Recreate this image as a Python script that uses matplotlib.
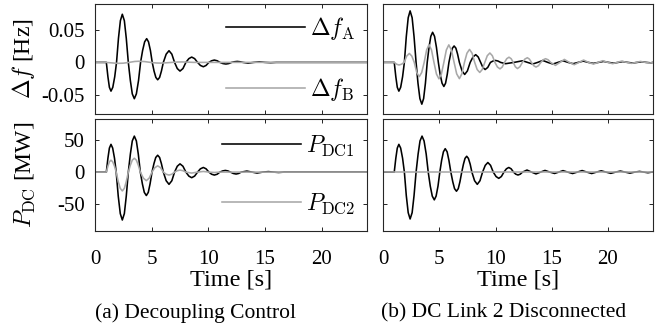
import matplotlib
matplotlib.use('Agg')
import matplotlib.pyplot as plt

# ---------------- data ----------------
# (a) Decoupling control, frequency deviation of area A  [Hz]
t_a_fA = [0, 1.0, 1.14, 1.27, 1.41, 1.57, 1.74, 1.9,
          2.07, 2.24, 2.41, 2.59, 2.76, 2.94,
          3.12, 3.29, 3.47, 3.65, 3.84, 4.02,
          4.2, 4.38, 4.56, 4.72, 4.89, 5.05,
          5.21, 5.37, 5.53, 5.7, 5.86, 6.03,
          6.28, 6.53, 6.78, 7.02,
          7.26, 7.5, 7.76, 8.02,
          8.28, 8.53, 8.79, 9.05,
          9.3, 9.56, 9.8, 10.05,
          10.29, 10.53, 10.78, 11.02,
          11.29, 11.55, 11.8, 12.05,
          12.3, 12.55, 12.8, 13.05,
          13.5, 14.0, 14.5, 15.0, 15.5, 16.0, 24.0]
v_a_fA = [0, 0, -0.0222, -0.0384, -0.0443, -0.0384, -0.0222, 0,
          0.0371, 0.0643, 0.0742, 0.0643, 0.0371, 0,
          -0.028, -0.0485, -0.056, -0.0485, -0.028, 0,
          0.0183, 0.0317, 0.0366, 0.0317, 0.0183, 0,
          -0.0134, -0.0232, -0.0268, -0.0232, -0.0134, 0,
          0.0127, 0.018, 0.0127, 0,
          -0.0095, -0.0134, -0.0095, 0,
          0.0058, 0.0082, 0.0058, 0,
          -0.0047, -0.0067, -0.0047, 0,
          0.0025, 0.0036, 0.0025, 0,
          -0.0018, -0.0025, -0.0018, 0,
          0.001, 0.0015, 0.001, 0,
          -0.0012, 0, 0.0008, 0, -0.0005, 0, 0]

# (a) frequency deviation of area B [Hz]
t_a_fB = [0, 1.0, 1.5, 2.0, 2.5, 3.0, 3.5, 3.9, 4.4, 4.9, 5.4, 5.8, 6.3,
          6.8, 7.3, 7.7, 8.2, 8.7, 24.0]
v_a_fB = [0, 0, -0.0008, -0.0015, -0.0012, 0, 0.0014, 0.0018, 0.0012, 0,
          -0.0009, -0.0011, -0.0006, 0, 0.0006, 0.0007, 0.0004, 0, 0]

# (a) DC link 1 power [MW]
t_a_p1 = [0, 1.0, 1.14, 1.27, 1.41, 1.56, 1.72, 1.87,
          2.05, 2.23, 2.41, 2.59, 2.76, 2.94,
          3.12, 3.29, 3.47, 3.65, 3.82, 4.0,
          4.18, 4.35, 4.53, 4.7, 4.86, 5.03,
          5.2, 5.36, 5.53, 5.7, 5.86, 6.03,
          6.28, 6.53, 6.78, 7.02,
          7.26, 7.5, 7.76, 8.02,
          8.28, 8.53, 8.79, 9.05,
          9.3, 9.56, 9.8, 10.05,
          10.29, 10.53, 10.78, 11.02,
          11.26, 11.5, 11.73, 11.95,
          12.2, 12.45, 12.68, 12.9,
          13.4, 13.85, 14.3, 14.8, 15.3, 15.75, 16.2, 16.7, 24.0]
v_a_p1 = [0, 0, 21.6, 37.3, 43.1, 37.3, 21.6, 0,
          -37.2, -64.4, -74.4, -64.4, -37.2, 0,
          27.95, 48.4, 55.9, 48.4, 27.95, 0,
          -18.2, -31.5, -36.4, -31.5, -18.2, 0,
          13.1, 22.7, 26.2, 22.7, 13.1, 0,
          -13.4, -19.0, -13.4, 0,
          9.1, 12.8, 9.1, 0,
          -6.2, -8.7, -6.2, 0,
          5.1, 7.2, 5.1, 0,
          -3.3, -4.6, -3.3, 0,
          1.8, 2.6, 1.8, 0,
          -2.1, -3.0, -2.1, 0,
          1.6, 0, -1.5, 0, 0.8, 0, -0.6, 0, 0]

# (a) DC link 2 power [MW]
t_a_p2 = [0, 1.0, 1.14, 1.27, 1.41, 1.56, 1.72, 1.87,
          2.05, 2.23, 2.41, 2.59, 2.76, 2.94,
          3.12, 3.29, 3.47, 3.65, 3.82, 4.0,
          4.27, 4.53, 4.78, 5.03,
          5.28, 5.53, 5.78, 6.03,
          6.28, 6.53, 6.78, 7.02,
          7.26, 7.5, 7.76, 8.02,
          8.53, 9.05, 9.56, 10.05, 10.53, 11.02, 24.0]
v_a_p2 = [0, 0, 9.25, 16.0, 18.5, 16.0, 9.25, 0,
          -14.6, -25.3, -29.2, -25.3, -14.6, 0,
          10.75, 18.6, 21.5, 18.6, 10.75, 0,
          -9.4, -13.3, -9.4, 0,
          6.9, 9.7, 6.9, 0,
          -3.3, -4.6, -3.3, 0,
          2.2, 3.1, 2.2, 0,
          -1.5, 0, 1.0, 0, -0.6, 0, 0]

# (b) DC link 2 disconnected, frequency deviation of area A [Hz]
t_b_fA = [0, 1.0, 1.14, 1.27, 1.41, 1.57, 1.74, 1.9,
          2.07, 2.24, 2.41, 2.59, 2.76, 2.94,
          3.11, 3.28, 3.45, 3.61, 3.77, 3.93,
          4.09, 4.25, 4.41, 4.58, 4.75, 4.92,
          5.08, 5.25, 5.41, 5.56, 5.71, 5.86,
          6.01, 6.17, 6.32, 6.48, 6.63, 6.79,
          7.03, 7.26, 7.5, 7.75,
          8.0, 8.24, 8.46, 8.68,
          8.88, 9.08, 9.31, 9.55,
          9.78, 10.0, 10.22, 10.45,
          10.9, 11.65, 12.4, 12.85, 13.3, 13.75, 14.2, 14.65, 15.1, 15.55,
          16.0, 16.45, 16.9, 17.35, 17.8, 18.25, 18.7, 19.15, 19.6, 20.05,
          20.5, 20.9, 21.3, 21.75, 22.2, 22.6, 23.0, 23.4, 23.8, 24.0]
v_b_fA = [0, 0, -0.0222, -0.0384, -0.0443, -0.0384, -0.0222, 0,
          0.0397, 0.0688, 0.0794, 0.0688, 0.0397, 0,
          -0.0322, -0.0558, -0.0644, -0.0558, -0.0322, 0,
          0.0232, 0.0402, 0.0464, 0.0402, 0.0232, 0,
          -0.0186, -0.0321, -0.0371, -0.0321, -0.0186, 0,
          0.0127, 0.0219, 0.0253, 0.0219, 0.0127, 0,
          -0.0132, -0.0186, -0.0132, 0,
          0.0084, 0.0119, 0.0084, 0,
          -0.0078, -0.011, -0.0078, 0,
          0.0021, 0.003, 0.0021, 0,
          -0.002, 0, 0.0025, 0, -0.0025, 0, 0.003, 0, -0.0025, 0,
          0.0025, 0, -0.002, 0, 0.002, 0, -0.0015, 0, 0.0015, 0,
          -0.0012, 0, 0.0012, 0, -0.001, 0, 0.0009, 0, -0.0007, 0]

# (b) frequency deviation of area B [Hz]
t_b_fB = [0, 1.0, 1.21, 1.42, 1.65, 1.88,
          2.11, 2.34, 2.56, 2.78,
          3.0, 3.22, 3.44, 3.66,
          3.88, 4.09, 4.31, 4.53,
          4.75, 4.97, 5.19, 5.41,
          5.63, 5.85, 6.08, 6.32,
          6.55, 6.79, 7.01, 7.24,
          7.46, 7.69, 7.92, 8.15,
          8.37, 8.6, 8.82, 9.05,
          9.27, 9.5, 9.72, 9.95,
          10.17, 10.4, 10.6, 10.8,
          11.0, 11.2, 11.39, 11.58,
          11.76, 11.95, 12.17, 12.39,
          12.61, 12.83, 13.01, 13.2,
          13.4, 13.6, 13.82, 14.03,
          14.24, 14.45, 14.68, 14.9,
          15.33, 15.73, 16.12, 16.56, 17.0, 17.42, 17.83, 18.27, 18.71, 19.12,
          19.53, 19.98, 20.42, 20.82, 21.21, 21.66, 22.1, 22.5, 22.89, 23.3,
          23.71, 24.0]
v_b_fB = [0, 0, -0.0028, -0.004, -0.0028, 0,
          0.0098, 0.0138, 0.0098, 0,
          -0.0156, -0.022, -0.0156, 0,
          0.0193, 0.0273, 0.0193, 0,
          -0.0179, -0.0253, -0.0179, 0,
          0.0191, 0.027, 0.0191, 0,
          -0.0177, -0.025, -0.0177, 0,
          0.0141, 0.02, 0.0141, 0,
          -0.011, -0.0155, -0.011, 0,
          0.0103, 0.0145, 0.0103, 0,
          -0.0071, -0.01, -0.0071, 0,
          0.0057, 0.008, 0.0057, 0,
          -0.0067, -0.0095, -0.0067, 0,
          0.0051, 0.0072, 0.0051, 0,
          -0.0051, -0.0072, -0.0051, 0,
          0.004, 0.0057, 0.004, 0,
          -0.0046, 0, 0.0046, 0, -0.0036, 0, 0.0036, 0, -0.0026, 0,
          0.0026, 0, -0.002, 0, 0.002, 0, -0.0015, 0, 0.0015, 0,
          -0.001, 0]

# (b) DC link 1 power [MW]
t_b_p1 = [0, 1.0, 1.14, 1.27, 1.41, 1.57, 1.74, 1.9,
          2.07, 2.24, 2.41, 2.59, 2.76, 2.94,
          3.12, 3.29, 3.47, 3.65, 3.84, 4.02,
          4.2, 4.38, 4.56, 4.72, 4.89, 5.05,
          5.21, 5.37, 5.53, 5.7, 5.86, 6.03,
          6.2, 6.36, 6.53, 6.69, 6.84, 7.0,
          7.15, 7.29, 7.44, 7.59, 7.75, 7.9,
          8.14, 8.38, 8.62, 8.85,
          9.09, 9.32, 9.56, 9.8,
          10.05, 10.29, 10.52, 10.75,
          10.97, 11.18, 11.39, 11.6,
          11.8, 12.0, 12.2, 12.4,
          12.8, 13.2, 13.6, 14.0, 14.4, 14.83, 15.25, 15.62, 16.0, 16.42,
          16.85, 17.27, 17.7, 18.12, 18.55, 18.98, 19.4, 19.82, 20.25, 20.68,
          21.1, 21.52, 21.95, 22.38, 22.8, 23.18, 23.55, 23.9, 24.0]
v_b_p1 = [0, 0, 21.6, 37.3, 43.1, 37.3, 21.6, 0,
          -36.4, -63.0, -72.8, -63.0, -36.4, 0,
          27.95, 48.4, 55.9, 48.4, 27.95, 0,
          -21.6, -37.3, -43.1, -37.3, -21.6, 0,
          18.2, 31.5, 36.4, 31.5, 18.2, 0,
          -14.9, -25.7, -29.7, -25.7, -14.9, 0,
          12.3, 21.3, 24.6, 21.3, 12.3, 0,
          -13.4, -19.0, -13.4, 0,
          10.5, 14.9, 10.5, 0,
          -6.9, -9.7, -6.9, 0,
          5.1, 7.2, 5.1, 0,
          -3.2, -4.5, -3.2, 0,
          3.2, 0, -2.8, 0, 2.6, 0, -2.1, 0, 2.3, 0,
          -2.2, 0, 2.4, 0, -2.2, 0, 2.0, 0, -1.9, 0,
          1.6, 0, -1.6, 0, 1.1, 0, -1.0, 0, 0.3]

# (b) DC link 2 power [MW] (link disconnected: stays at zero)
t_b_p2 = [0, 24.0]
v_b_p2 = [0, 0]

# axis settings / tick labels
x_lim = [0, 24]
x_ticks = [0, 5, 10, 15, 20]
x_ticklabels = ['0', '5', '10', '15', '20']
f_lim = [-0.08, 0.09]
f_ticks = [-0.05, 0, 0.05]
f_ticklabels = ['-0.05', '0', '0.05']
p_lim = [-91, 82]
p_ticks = [-50, 0, 50]
p_ticklabels = ['-50', '0', '50']

labels_f = [r'$\Delta f_\mathrm{A}$', r'$\Delta f_\mathrm{B}$']
labels_p = [r'$P_\mathrm{DC1}$', r'$P_\mathrm{DC2}$']
captions = ['(a) Decoupling Control', '(b) DC Link 2 Disconnected']

# ---------------- styling ----------------
plt.rcParams.update({
    'font.family': ['Liberation Serif', 'DejaVu Serif'],
    'mathtext.fontset': 'cm',
    'axes.unicode_minus': False,
    'xtick.direction': 'in', 'ytick.direction': 'in',
    'xtick.top': True, 'ytick.right': True,
    'xtick.major.size': 3, 'ytick.major.size': 3,
    'xtick.major.width': 0.6, 'ytick.major.width': 0.6,
    'axes.linewidth': 0.8,
    'axes.edgecolor': '#262626',
})

BLACK = '#000000'
GRAY = '#a8a8a8'
LW = 1.15
TICK_FS = 15
XLABEL_FS = 17.5
YLABEL_FS = 17
LEG_FS = 17
CAP_FS = 15.5

W, H = 665, 328
fig = plt.figure(figsize=(W / 100, H / 100), dpi=100)


def add_ax(x0, y0, x1, y1):
    return fig.add_axes([x0 / W, 1 - y1 / H, (x1 - x0) / W, (y1 - y0) / H])


ax_a1 = add_ax(95, 4, 367, 114.3)
ax_a2 = add_ax(95, 119.3, 367, 230.7)
ax_b1 = add_ax(383, 4, 653, 114.3)
ax_b2 = add_ax(383, 119.3, 653, 230.7)

# curves (black first, gray drawn on top)
la1, = ax_a1.plot(t_a_fA, v_a_fA, color=BLACK, lw=LW)
la2, = ax_a1.plot(t_a_fB, v_a_fB, color=GRAY, lw=LW)
lb1, = ax_a2.plot(t_a_p1, v_a_p1, color=BLACK, lw=LW)
lb2, = ax_a2.plot(t_a_p2, v_a_p2, color=GRAY, lw=LW)
ax_b1.plot(t_b_fA, v_b_fA, color=BLACK, lw=LW)
ax_b1.plot(t_b_fB, v_b_fB, color=GRAY, lw=LW)
ax_b2.plot(t_b_p1, v_b_p1, color=BLACK, lw=LW)
ax_b2.plot(t_b_p2, v_b_p2, color=GRAY, lw=LW)

for ax in (ax_a1, ax_a2, ax_b1, ax_b2):
    ax.set_xlim(x_lim)
    ax.set_xticks(x_ticks)
    ax.tick_params(axis='x', pad=14, labelsize=TICK_FS)
    ax.tick_params(axis='y', pad=7.5, labelsize=TICK_FS)

for ax in (ax_a1, ax_b1):
    ax.set_ylim(f_lim)
    ax.set_yticks(f_ticks)
    ax.set_xticklabels([])
for ax in (ax_a2, ax_b2):
    ax.set_ylim(p_lim)
    ax.set_yticks(p_ticks)
    ax.set_xticklabels(x_ticklabels)
    ax.set_xlabel('Time [s]', fontsize=XLABEL_FS, labelpad=0)

ax_a1.set_yticklabels(f_ticklabels)
ax_a2.set_yticklabels(p_ticklabels)
ax_b1.set_yticklabels([])
ax_b2.set_yticklabels([])

ax_a1.set_ylabel(r'$\Delta f$ [Hz]', fontsize=YLABEL_FS)
ax_a2.set_ylabel(r'$P_\mathrm{DC}$ [MW]', fontsize=YLABEL_FS)
ax_a1.yaxis.set_label_coords(-0.215, 0.5)
ax_a2.yaxis.set_label_coords(-0.215, 0.5)

leg_kw = dict(loc='center right', frameon=False, fontsize=LEG_FS,
              handlelength=3.35, handletextpad=0.2, labelspacing=1.45,
              borderpad=0, borderaxespad=0)
ax_a1.legend([la1, la2], labels_f, bbox_to_anchor=(0.955, 0.5), **leg_kw)
ax_a2.legend([lb1, lb2], labels_p, bbox_to_anchor=(0.955, 0.5), **leg_kw)

fig.text(196 / W, 1 - 313 / H, captions[0], ha='center', va='center',
         fontsize=CAP_FS)
fig.text(504 / W, 1 - 313 / H, captions[1], ha='center', va='center',
         fontsize=CAP_FS)

fig.savefig('out.png', dpi=100)
